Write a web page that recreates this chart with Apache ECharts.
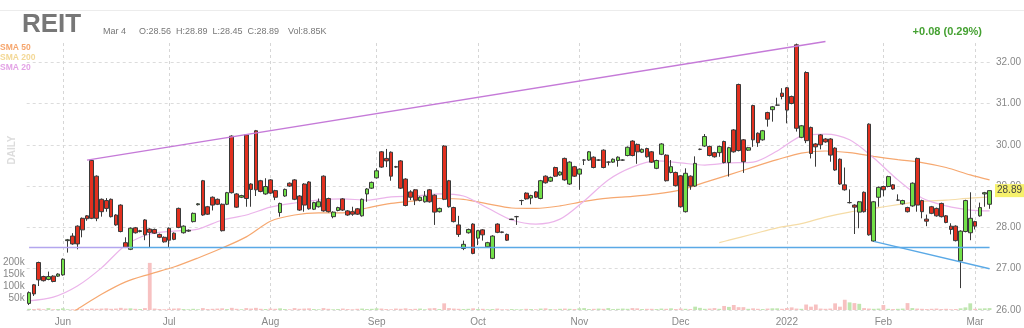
<!DOCTYPE html>
<html><head><meta charset="utf-8">
<script src="https://cdn.jsdelivr.net/npm/echarts@6/dist/echarts.min.js"></script>
<style>html,body{margin:0;padding:0;background:#fff}#c{width:1024px;height:328px}</style>
</head><body><div id="c"></div>
<script>
// trading days shown on the chart
const tradingDays = [
  ['2021-05', [20,21,24,25,26,27,28]],
  ['2021-06', [1,2,3,4,7,8,9,10,11,14,15,16,17,18,21,22,23,24,25,28,29,30]],
  ['2021-07', [1,2,6,7,8,9,12,13,14,15,16,19,20,21,22,23,26,27,28,29,30]],
  ['2021-08', [2,3,4,5,6,9,10,11,12,13,16,17,18,19,20,23,24,25,26,27,30,31]],
  ['2021-09', [1,2,3,7,8,9,10,13,14,15,16,17,20,21,22,23,24,27,28,29,30]],
  ['2021-10', [1,4,5,6,7,8,11,12,13,14,15,18,19,20,21,22,25,26,27,28,29]],
  ['2021-11', [1,2,3,4,5,8,9,10,11,12,15,16,17,18,19,22,23,24,26,29,30]],
  ['2021-12', [1,2,3,6,7,8,9,10,13,14,15,16,17,20,21,22,23,27,28,29,30,31]],
  ['2022-01', [3,4,5,6,7,10,11,12,13,14,18,19,20,21,24,25,26,27,28,31]],
  ['2022-02', [1,2,3,4,7,8,9,10,11,14,15,16,17,18,22,23,24,25,28]],
  ['2022-03', [1,2,3,4]]
];
const dates = tradingDays.flatMap(([ym, ds]) => ds.map(d => ym + '-' + String(d).padStart(2, '0')));

const tickDates  = ['2021-06-01','2021-07-01','2021-08-02','2021-09-01','2021-10-01','2021-11-01','2021-12-01','2022-01-03','2022-02-01','2022-03-01'];
const tickLabels = ['Jun','Jul','Aug','Sep','Oct','Nov','Dec','2022','Feb','Mar'];

const opens = [
26.16,26.61,27.15,26.81,26.74,26.82,26.82,26.85,27.68,27.79,
28.03,28.22,28.28,29.62,29.24,28.68,28.65,28.68,28.30,28.54,
27.63,27.47,27.99,27.90,28.18,27.96,27.95,27.83,27.76,27.98,
27.86,28.46,27.87,27.91,28.14,28.55,29.13,28.50,28.73,28.68,
28.56,28.56,30.21,28.81,28.73,30.24,29.05,30.34,29.13,28.81,
29.15,28.89,28.36,28.76,29.07,29.15,28.76,29.05,29.10,28.44,
28.50,29.24,28.70,28.26,28.41,28.69,28.40,28.38,28.45,28.28,
28.81,28.95,29.20,29.83,29.67,29.82,29.47,29.61,29.17,28.86,
28.91,28.65,28.62,28.91,28.78,28.38,29.97,29.13,28.48,28.06,
27.49,27.87,28.08,27.74,27.94,27.53,27.25,28.08,27.89,27.83,
28.19,28.26,28.65,28.83,28.71,28.86,28.70,29.24,29.12,29.45,
29.27,29.67,29.05,29.47,29.29,29.63,29.63,29.70,29.63,29.87,
29.58,29.58,29.62,29.63,29.74,30.09,30.01,29.82,29.91,29.83,
29.43,29.77,29.75,29.33,29.33,29.25,28.38,29.24,29.00,29.89,
29.97,29.96,29.81,29.81,30.08,29.57,30.36,31.46,30.12,29.87,
30.95,30.28,30.12,30.78,30.85,30.96,31.25,31.38,31.17,32.42,
30.18,31.75,30.42,30.02,30.24,30.14,30.14,29.92,29.65,29.03,
28.60,28.54,28.37,28.85,30.50,27.67,28.73,28.99,28.99,29.03,
28.66,28.57,28.48,28.52,29.67,28.65,28.20,28.50,28.46,28.58,
28.28,28.03,28.03,27.19,27.90,27.87,28.14,28.28,28.81,28.56];
const closes = [
26.42,26.39,26.73,26.71,26.81,26.69,26.87,27.23,27.70,27.60,
27.60,27.94,28.21,28.22,28.22,28.38,28.46,28.26,28.06,27.90,
27.52,27.98,27.87,27.92,27.82,27.88,27.86,27.76,27.65,27.69,
27.71,28.00,28.03,27.93,28.34,28.57,28.30,28.32,28.54,28.56,
27.92,28.84,28.84,28.49,28.77,28.70,28.92,28.91,28.87,28.99,
28.83,28.73,28.58,28.92,29.00,28.68,28.42,28.54,28.45,28.60,
28.62,28.40,28.38,28.37,28.48,28.42,28.30,28.32,28.32,28.68,
28.93,29.09,29.37,29.46,29.61,29.24,29.46,28.95,28.53,28.73,
28.66,28.73,28.76,28.62,28.37,28.46,28.68,28.50,28.14,27.83,
27.59,27.95,27.37,27.92,27.82,27.63,27.79,27.88,27.88,27.69,
28.20,28.26,28.65,28.69,28.77,28.73,29.13,29.08,29.21,29.24,
29.34,29.15,29.58,29.24,29.41,29.63,29.83,29.45,29.63,29.45,
29.58,29.65,29.70,29.63,29.94,29.74,29.83,29.89,29.71,29.58,
29.62,30.02,29.13,29.47,29.01,28.50,29.31,29.00,29.55,29.89,
30.20,29.74,29.71,29.96,29.57,29.93,29.83,29.86,29.59,29.93,
30.12,30.05,30.34,30.62,30.92,30.96,31.17,30.84,31.00,30.40,
30.46,30.10,29.79,29.95,30.00,30.07,29.75,29.39,29.05,28.91,
28.60,28.49,28.62,28.38,27.82,28.62,28.97,28.91,29.23,28.93,
28.66,28.65,28.38,29.07,28.54,28.38,28.15,28.34,28.28,28.26,
28.12,27.95,27.68,27.91,28.65,28.22,28.03,28.48,28.84,28.89];
const lows = [
26.12,26.34,26.58,26.69,26.72,26.67,26.80,26.83,27.39,27.58,
27.47,27.76,28.16,28.20,28.15,28.26,28.38,28.24,28.04,27.88,
27.50,27.45,27.85,27.88,27.69,27.52,27.84,27.74,27.63,27.52,
27.69,27.98,27.85,27.89,28.12,28.53,28.28,28.30,28.41,28.54,
27.90,28.54,28.82,28.47,28.71,28.50,28.50,28.76,28.85,28.79,
28.81,28.66,28.26,28.74,28.98,28.66,28.40,28.38,28.43,28.42,
28.48,28.38,28.36,28.22,28.39,28.40,28.28,28.28,28.30,28.26,
28.62,28.93,29.18,29.44,29.46,29.13,29.44,28.93,28.51,28.66,
28.54,28.63,28.60,28.60,28.06,28.36,28.66,28.48,28.12,27.77,
27.45,27.85,27.35,27.57,27.68,27.51,27.23,27.86,27.86,27.67,
28.18,28.06,28.54,28.67,28.56,28.71,28.68,29.06,29.10,29.22,
29.25,29.13,29.03,29.22,28.91,29.51,29.61,29.43,29.61,29.43,
29.50,29.56,29.47,29.61,29.72,29.72,29.54,29.80,29.69,29.56,
29.41,29.75,29.11,29.31,28.99,28.48,28.36,28.91,28.98,29.87,
29.95,29.72,29.69,29.71,29.55,29.23,29.81,29.84,29.32,29.85,
29.95,29.95,30.10,30.44,30.56,30.94,31.10,30.52,30.98,30.32,
30.16,30.04,29.67,29.47,29.89,30.05,29.59,29.37,29.03,28.89,
28.58,27.84,27.98,28.36,27.80,27.65,28.50,28.75,28.97,28.91,
28.64,28.55,28.36,28.50,28.38,28.22,28.03,28.32,28.26,28.24,
28.10,27.83,27.66,26.53,27.88,27.69,27.95,28.26,28.50,28.45];
const highs = [
26.45,26.63,27.17,26.83,26.93,26.84,26.89,27.25,27.72,27.86,
28.05,28.24,28.30,29.63,29.26,28.70,28.71,28.70,28.32,28.56,
27.76,28.00,28.01,27.94,28.20,27.98,27.97,27.85,27.78,28.00,
27.88,28.48,28.05,27.95,28.36,28.59,29.15,28.52,28.75,28.70,
28.58,28.86,30.23,28.83,28.79,30.26,29.07,30.36,29.15,29.19,
29.17,28.91,28.60,28.94,29.09,29.17,28.78,29.07,29.12,28.62,
28.70,29.26,28.72,28.39,28.50,28.71,28.42,28.50,28.47,28.70,
28.95,29.11,29.43,29.85,29.90,29.84,29.49,29.63,29.19,28.90,
28.93,28.75,28.88,28.93,28.80,28.48,29.99,29.15,28.50,28.28,
27.68,27.97,28.10,27.94,27.96,27.65,27.81,28.10,27.90,27.85,
28.21,28.28,28.67,28.85,28.79,28.88,29.15,29.26,29.23,29.47,
29.36,29.69,29.60,29.49,29.43,29.65,29.85,29.72,29.65,29.89,
29.60,29.67,29.72,29.65,29.96,30.11,30.03,29.91,29.93,29.85,
29.64,30.04,29.77,29.63,29.35,29.27,29.43,29.26,29.72,29.91,
30.26,29.98,29.83,29.98,30.10,29.95,30.38,31.48,30.14,29.95,
30.97,30.30,30.36,30.80,30.94,31.14,31.37,31.40,31.19,32.45,
30.48,31.78,30.44,30.04,30.26,30.16,30.16,29.94,29.67,29.45,
28.92,28.56,28.64,28.87,30.52,28.64,28.99,29.01,29.25,29.05,
28.80,28.67,28.50,29.09,29.69,28.67,28.31,28.52,28.48,28.60,
28.30,28.10,28.05,27.93,28.67,28.85,28.16,28.60,28.86,28.89];
// volume in thousands of shares
const volumes = [
5,4,6,3,8,3,4,7,
3,3,4,5,4,6,5,6,7,5,6,9,6,7,5,4,8,
198,
6,4,3,5,6,7,4,3,5,3,8,4,5,6,7,
4,9,5,3,8,6,9,5,4,6,5,7,4,3,8,5,6,7,4,3,
8,5,3,4,6,4,3,5,6,4,5,7,6,4,3,6,5,7,4,5,6,3,7,8,4,
28,
8,6,5,4,5,7,4,5,3,4,6,3,3,4,3,3,5,4,3,6,7,4,3,5,
6,5,4,7,8,4,5,6,5,8,4,5,6,5,8,7,4,5,5,4,6,5,7,4,6,
5,4,14,9,5,6,8,5,17,13,21,12,12,5,7,5,4,6,7,7,5,8,11,6,5,
23,14,23,6,5,6,28,14,43,32,29,26,8,6,5,
6,21,5,4,5,6,29,8,6,5,4,5,6,4,5,3,4,7,11,28,5,6,7,8];

// moving averages at sample days (day index)
const sma20Idx = [0,5,10,15,20,25,30,35,40,45,50,55,60,65,70,75,80,85,90,95,100,105,110,115,120,125,130,135,140,145,150,155,160,165,170,175,180,185,190,195,199];
const sma20Val = [26.22,26.31,26.58,27.02,27.57,27.84,27.91,27.96,28.18,28.30,28.49,28.59,28.66,28.69,28.66,28.74,28.76,28.81,28.76,28.47,28.18,28.08,28.20,28.64,29.15,29.46,29.61,29.56,29.51,29.56,29.58,29.85,30.21,30.26,30.12,29.68,29.15,28.71,28.52,28.42,28.40];
const sma50Idx = [9,10,15,20,25,30,35,40,45,50,55,60,65,70,75,80,85,90,95,100,105,110,115,120,125,130,135,140,145,150,155,160,165,170,175,180,185,190,195,199];
const sma50Val = [25.96,26.02,26.38,26.68,26.87,27.04,27.26,27.50,27.77,28.15,28.30,28.35,28.35,28.47,28.58,28.64,28.70,28.68,28.57,28.47,28.46,28.52,28.63,28.71,28.75,28.81,28.91,29.09,29.27,29.46,29.64,29.80,29.85,29.81,29.72,29.64,29.57,29.45,29.27,29.15];
const sma200Idx = [143,145,150,155,160,165,170,175,180,185,190,195,199];
const sma200Val = [27.63,27.69,27.84,27.99,28.09,28.25,28.37,28.46,28.55,28.63,28.66,28.71,28.74];

// drawn trend lines: [date, price] end points
const trendUpper = [['2021-06-08', 29.63], ['2022-01-13', 32.50]];
const supportOld = [['2021-05-20', 27.51], ['2021-06-21', 27.51]];
const supportNew = [['2021-06-21', 27.51], ['2022-03-04', 27.51]];
const trendDown  = [['2022-01-28', 27.66], ['2022-03-04', 27.00]];

const lastPrice = 28.89;

const UP = '#72e048', DOWN = '#e2301f', EDGE = '#3a3a3a';
const FONT = 'Liberation Sans, Arial, sans-serif';
const candleData = dates.map((d, i) => [opens[i], closes[i], lows[i], highs[i]]);
const volData = volumes.map((v, i) => ({
  value: v,
  itemStyle: { color: closes[i] >= opens[i] ? '#bfe6b0' : '#f7c1c1' }
}));
const pair = (idx, val) => idx.map((i, k) => [i, val[k]]);
const seg = (pts, color, w) => [
  { coord: pts[0], lineStyle: { color: color, width: w, type: 'solid' } },
  { coord: pts[1] }
];

const chart = echarts.init(document.getElementById('c'), null, { renderer: 'canvas' });
chart.setOption({
  animation: false,
  backgroundColor: '#fff',
  grid: { left: 21.27, right: 30.9, top: 41, bottom: 18 },
  xAxis: {
    type: 'category',
    data: dates,
    boundaryGap: true,
    axisLine: { show: false },
    axisTick: { show: false },
    splitLine: { show: false },
    axisLabel: {
      interval: (idx, val) => tickDates.includes(val),
      formatter: (val) => { const k = tickDates.indexOf(val); return k >= 0 ? tickLabels[k] : ''; },
      color: '#888', fontSize: 10, fontFamily: FONT, margin: 7
    }
  },
  yAxis: [{
    type: 'value', position: 'right', min: 26, max: 32.513, interval: 1,
    axisLine: { show: false }, axisTick: { show: false },
    splitLine: { show: true, showMaxLine: false, lineStyle: { color: '#dcdcdc', type: [3, 3], width: 1 } },
    axisLabel: {
      showMaxLabel: false, margin: 4,
      formatter: v => Math.abs(v - Math.round(v)) < 1e-6 ? v.toFixed(2) : '',
      color: '#888', fontSize: 10, fontFamily: FONT
    }
  }, {
    type: 'value', position: 'left', min: 0, max: 1130, interval: 50,
    axisLine: { show: false }, axisTick: { show: false }, splitLine: { show: false },
    axisLabel: {
      margin: 2,
      formatter: v => (v > 0 && v <= 200) ? v + 'k' : '',
      color: '#888', fontSize: 10, fontFamily: FONT
    }
  }],
  series: [{
    type: 'bar', name: 'Volume', yAxisIndex: 1, data: volData, barWidth: 3.8, z: 1,
    silent: true,
    markLine: {
      silent: true, symbol: 'none', z: 1,
      label: { show: false },
      lineStyle: { color: '#d6d6d6', type: [3, 3], width: 1 },
      data: tickDates.map(d => ({ xAxis: d }))
    }
  }, {
    type: 'line', name: 'SMA 200', data: pair(sma200Idx, sma200Val), showSymbol: false, smooth: 0.3,
    lineStyle: { color: '#f5dca6', width: 1.2 }, z: 2, silent: true
  }, {
    type: 'line', name: 'SMA 50', data: pair(sma50Idx, sma50Val), showSymbol: false, smooth: 0.3,
    lineStyle: { color: '#f6a870', width: 1.2 }, z: 2, silent: true
  }, {
    type: 'line', name: 'SMA 20', data: pair(sma20Idx, sma20Val), showSymbol: false, smooth: 0.3,
    lineStyle: { color: '#ebb4ea', width: 1.2 }, z: 2, silent: true
  }, {
    type: 'candlestick', name: 'REIT', data: candleData, barWidth: 4.2, z: 3,
    itemStyle: { color: UP, color0: DOWN, borderColor: EDGE, borderColor0: EDGE, borderWidth: 1 },
    markLine: {
      silent: true, symbol: 'none', animation: false,
      label: { show: false },
      data: [
        seg(trendUpper, '#c57ad8', 1.4),
        seg(supportOld, '#b3a6ee', 1.4),
        seg(supportNew, '#5aa9e6', 1.4),
        seg(trendDown, '#5aa9e6', 1.4)
      ]
    }
  }, {
    type: 'line', name: 'last', data: [], silent: true, z: 6,
    markLine: {
      silent: true, symbol: 'none', animation: false,
      lineStyle: { color: 'rgba(0,0,0,0)', width: 0 },
      label: { show: true, position: 'end', distance: 3, formatter: () => lastPrice.toFixed(2),
               backgroundColor: '#f6f16c', color: '#444', padding: [2, 2, 1, 2],
               fontSize: 10, fontFamily: FONT },
      data: [{ yAxis: lastPrice }]
    }
  }],
  graphic: [
    { type: 'line', shape: { x1: 0, y1: 10.5, x2: 1024, y2: 10.5 }, style: { stroke: '#ececec', lineWidth: 1 }, silent: true },
    { type: 'text', x: 22, y: 25, style: { text: 'REIT', font: 'bold 26px ' + FONT, fill: '#777', textVerticalAlign: 'middle' } },
    { type: 'text', x: 103, y: 32, style: { text: 'Mar 4', font: '9px ' + FONT, fill: '#777', textVerticalAlign: 'middle' } },
    { type: 'text', x: 139, y: 32, style: { text: 'O:28.56  H:28.89  L:28.45  C:28.89', font: '9px ' + FONT, fill: '#777', textVerticalAlign: 'middle' } },
    { type: 'text', x: 288, y: 32, style: { text: 'Vol:8.85K', font: '9px ' + FONT, fill: '#777', textVerticalAlign: 'middle' } },
    { type: 'text', x: 982, y: 32, style: { text: '+0.08 (0.29%)', font: 'bold 11px ' + FONT, fill: '#45a132', textAlign: 'right', textVerticalAlign: 'middle' } },
    { type: 'text', x: 0, y: 48, style: { text: 'SMA 50', font: 'bold 8.5px ' + FONT, fill: '#f6a56c', textVerticalAlign: 'middle' } },
    { type: 'text', x: 0, y: 58, style: { text: 'SMA 200', font: 'bold 8.5px ' + FONT, fill: '#f3d896', textVerticalAlign: 'middle' } },
    { type: 'text', x: 0, y: 68, style: { text: 'SMA 20', font: 'bold 8.5px ' + FONT, fill: '#e3a3e6', textVerticalAlign: 'middle' } },
    { type: 'text', x: 12, y: 150, rotation: Math.PI / 2, style: { text: 'DAILY', font: 'bold 10px ' + FONT, fill: '#dcdcdc', textAlign: 'center', textVerticalAlign: 'middle' } }
  ]
});
</script>
</body></html>
